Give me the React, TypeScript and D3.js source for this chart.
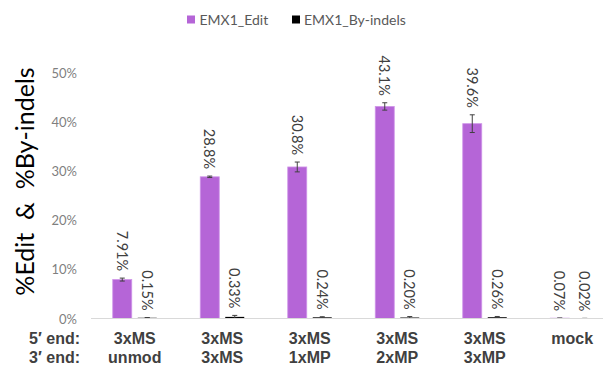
import React from "react";
import * as d3 from "d3";

// Construct groups: 5' end modification / 3' end modification
const fivePrimeLabels = ["3xMS", "3xMS", "3xMS", "3xMS", "3xMS", "mock"];
const threePrimeLabels = ["unmod", "3xMS", "1xMP", "2xMP", "3xMP", ""];
const groupIds = ["g1", "g2", "g3", "g4", "g5", "g6"];

const seriesNames = ["EMX1_Edit", "EMX1_By-indels"];
const seriesColors = ["#B565D7", "#000000"];

// Percent values and standard errors
const editValues = [7.91, 28.8, 30.8, 43.1, 39.6, 0.07];
const editErrors = [0.3, 0.15, 1.0, 0.75, 1.8, 0.02];
const byIndelValues = [0.15, 0.33, 0.24, 0.2, 0.26, 0.02];
const byIndelErrors = [0.05, 0.3, 0.12, 0.2, 0.15, 0.01];

const yTicks = [0, 10, 20, 30, 40, 50];

const W = 603;
const H = 365;

const fmtLabel = (v: number) => (v < 1 ? v.toFixed(2) : v.toPrecision(3)) + "%";

export default function App() {
  const y = d3.scaleLinear().domain([0, 50]).range([318.5, 72.5]);
  const x = d3.scaleBand<string>().domain(groupIds).range([91, 616]).padding(0);
  const inner = d3
    .scaleBand<string>()
    .domain(seriesNames)
    .range([0, x.bandwidth()])
    .paddingInner(0.24)
    .paddingOuter(0.87);

  const series = [
    { name: seriesNames[0], color: seriesColors[0], values: editValues, errors: editErrors },
    { name: seriesNames[1], color: seriesColors[1], values: byIndelValues, errors: byIndelErrors },
  ];

  const labelFont = "Lato, 'Open Sans', sans-serif";

  return (
    <svg
      width={W}
      height={H}
      style={{ position: "absolute", left: 0, top: 0, background: "#fff" }}
      fontFamily={labelFont}
    >
      {/* legend */}
      <g fontSize={14} fill="#595959">
        <rect x={187} y={15.5} width={8} height={8} fill={seriesColors[0]} />
        <text x={199.5} y={24.5}>{seriesNames[0]}</text>
        <rect x={292} y={15.5} width={8} height={8} fill={seriesColors[1]} />
        <text x={304} y={24.5}>{seriesNames[1]}</text>
      </g>

      {/* y axis title */}
      <text
        transform={`translate(34,${181.5}) rotate(-90)`}
        textAnchor="middle"
        fontSize={25}
        fill="#000"
        style={{ whiteSpace: "pre" }}
      >
        {"%Edit  &  %By-indels"}
      </text>

      {/* y tick labels */}
      <g fontSize={13} fill="#7F7F7F" textAnchor="end">
        {yTicks.map((t) => (
          <text key={t} x={77} y={y(t)} dominantBaseline="central">
            {t}%
          </text>
        ))}
      </g>

      {/* bars, error bars and value labels */}
      {series.map((s) => (
        <g key={s.name}>
          {groupIds.map((g, i) => {
            const bx = (x(g) ?? 0) + (inner(s.name) ?? 0);
            const bw = inner.bandwidth();
            const cx = bx + bw / 2;
            const v = s.values[i];
            const e = s.errors[i];
            const yTop = y(v + e);
            const yBot = y(Math.max(0, v - e));
            return (
              <g key={g}>
                <rect
                  x={bx}
                  y={y(v)}
                  width={bw}
                  height={y(0) - y(v)}
                  fill={s.color}
                  stroke={s.color === "#000000" ? "none" : "#CF95E8"}
                  strokeWidth={0.8}
                />
                <g stroke="#404040" strokeWidth={1}>
                  <line x1={cx} x2={cx} y1={yTop} y2={yBot} />
                  <line x1={cx - 2.5} x2={cx + 2.5} y1={yTop} y2={yTop} />
                  <line x1={cx - 2.5} x2={cx + 2.5} y1={yBot} y2={yBot} />
                </g>
                <text
                  transform={`translate(${cx},${yTop - 7}) rotate(90)`}
                  textAnchor="end"
                  dominantBaseline="central"
                  fontSize={14.5}
                  fill="#404040"
                >
                  {fmtLabel(v)}
                </text>
              </g>
            );
          })}
        </g>
      ))}

      {/* x axis line */}
      <line x1={91} x2={616} y1={y(0)} y2={y(0)} stroke="#D9D9D9" strokeWidth={1} />

      {/* category labels */}
      <g
        fontFamily="'Liberation Sans', Arial, sans-serif"
        fontWeight="bold"
        fontSize={16}
        fill="#404040"
      >
        <text x={80} y={343.5} textAnchor="end">{"5\u2032 end:"}</text>
        <text x={80} y={362.5} textAnchor="end">{"3\u2032 end:"}</text>
        {groupIds.map((g, i) => {
          const cx = (x(g) ?? 0) + x.bandwidth() / 2;
          return (
            <g key={g} textAnchor="middle">
              <text x={cx} y={343.5}>{fivePrimeLabels[i]}</text>
              <text x={cx} y={362.5}>{threePrimeLabels[i]}</text>
            </g>
          );
        })}
      </g>
    </svg>
  );
}
